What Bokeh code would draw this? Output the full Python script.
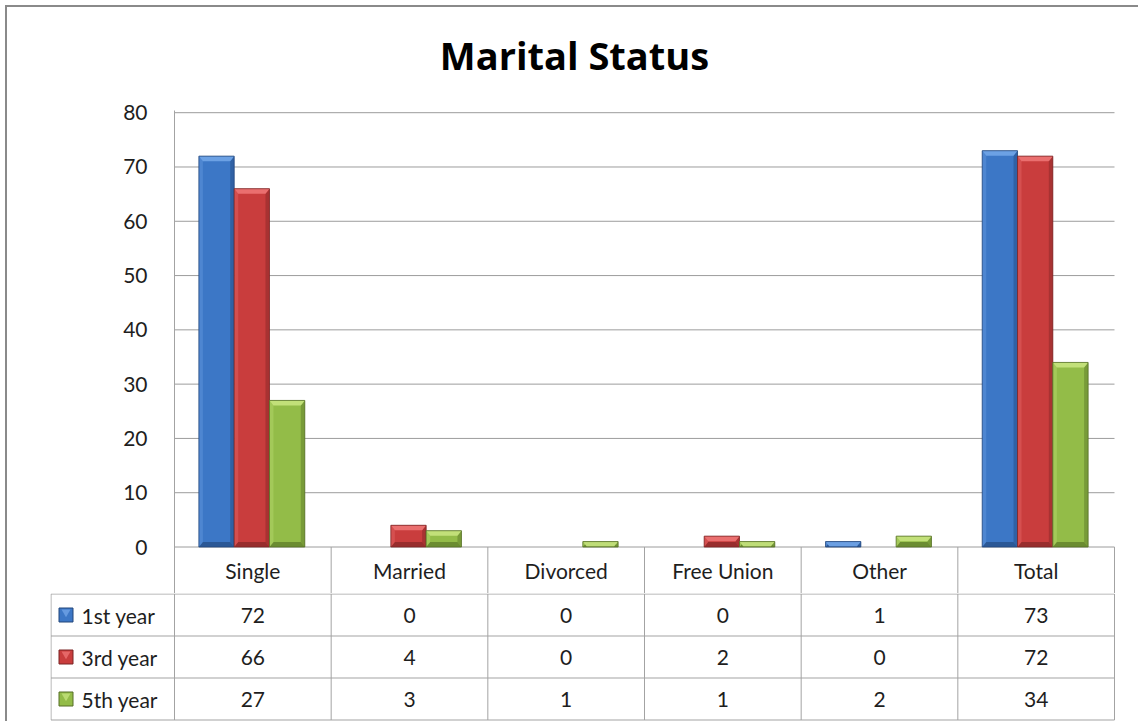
from bokeh.plotting import figure
from bokeh.layouts import column
from bokeh.models import Range1d, LinearAxis, FixedTicker
from bokeh.core.properties import value
from bokeh.embed import file_html
from bokeh.resources import INLINE

# ---------------- data ----------------
title_text = "Marital Status"
categories = ["Single", "Married", "Divorced", "Free Union", "Other", "Total"]
series_names = ["1st year", "3rd year", "5th year"]
first_year = [72, 0, 0, 0, 1, 73]
third_year = [66, 4, 0, 2, 0, 72]
fifth_year = [27, 3, 1, 1, 2, 34]
y_ticks = [0, 10, 20, 30, 40, 50, 60, 70, 80]

series_values = [first_year, third_year, fifth_year]

# ---------------- styles ----------------
FONT = "Lato"
TITLE_FONT = "Open Sans"
base_cols = ["#3c77c6", "#c93d3d", "#93bc48"]
light_cols = ["#6fa3e6", "#ec7272", "#c4e27c"]
dark_cols = ["#27508a", "#8c2929", "#62802c"]
edge_cols = ["#23467a", "#7a2424", "#566f27"]
grid_col = "#9c9c9c"
table_col = "#a3a3a3"
text_col = "#1e1e1e"

OX, OY = 7, 7                  # page position of the layout content
W = 1131
ncat = len(categories)
vmax = 80

# page-pixel geometry of the reference
frame_left, frame_right = 174, 1114
y80_px, y0_px = 112.2, 546.5
header_bot_px = 593
table_bot_px = 720
leg_left_px = 50
title_center_px = 574
title_mid_px = 54

TITLE_H = 88
MB_TOP = 15
MB_LEFT = frame_left - OX
EXTRA_R = 2
MB_RIGHT = W - (frame_right + EXTRA_R - OX)
ppu = (y0_px - y80_px) / vmax          # pixels per data unit (y)
frame_top_px = OY + TITLE_H + MB_TOP
frame_h = header_bot_px - frame_top_px
y1 = vmax + (y80_px - frame_top_px) / ppu
y0 = -(header_bot_px - y0_px) / ppu
TOP_H = MB_TOP + frame_h
xpp = ncat / (frame_right - frame_left)   # data units per pixel (x)
upp = 1.0 / ppu


def bare(fig):
    fig.outline_line_color = None
    fig.grid.visible = False
    fig.background_fill_color = "white"
    fig.border_fill_color = "white"


# ---------------- title strip ----------------
tf = figure(width=W, height=TITLE_H, output_backend="svg", toolbar_location=None,
            x_range=Range1d(0, W), y_range=Range1d(0, TITLE_H),
            min_border_left=0, min_border_right=0, min_border_top=0, min_border_bottom=0,
            x_axis_location=None, y_axis_location=None, frame_align=False)
bare(tf)
tf.text(x=[title_center_px - OX], y=[TITLE_H - (title_mid_px - OY)], text=[title_text],
        text_align="center", text_baseline="middle", text_font=value(TITLE_FONT),
        text_font_style="bold", text_font_size="38px", text_color="black")

# ---------------- chart ----------------
p = figure(width=W, height=TOP_H, output_backend="svg", toolbar_location=None,
           x_range=Range1d(0, ncat + EXTRA_R * xpp), y_range=Range1d(y0, y1),
           min_border_left=MB_LEFT, min_border_right=MB_RIGHT,
           min_border_top=MB_TOP, min_border_bottom=0,
           x_axis_location=None, y_axis_location=None, frame_align=False)
bare(p)

yaxis = LinearAxis(ticker=FixedTicker(ticks=y_ticks))
yaxis.major_tick_line_color = None
yaxis.minor_tick_line_color = None
yaxis.axis_line_color = table_col
yaxis.major_label_standoff = 21
yaxis.major_label_text_font = FONT
yaxis.major_label_text_font_size = "21px"
yaxis.major_label_text_color = text_col
p.add_layout(yaxis, "left")

# horizontal gridlines from the tick values
p.segment(x0=[0] * len(y_ticks), x1=[ncat] * len(y_ticks), y0=y_ticks, y1=y_ticks,
          line_color=grid_col, line_width=1)

bar_w = 35.3 * xpp
cap = 5 * upp
side = 4 * xpp
offsets = [(k - 1) * bar_w for k in range(3)]

for k, vals in enumerate(series_values):
    xs, tops = [], []
    for i, v in enumerate(vals):
        if v > 0:
            xs.append(i + 0.5 + offsets[k] - 1.0 * xpp)
            tops.append(v)
    if not xs:
        continue
    left = [x - bar_w / 2 for x in xs]
    right = [x + bar_w / 2 for x in xs]
    p.vbar(x=xs, top=tops, bottom=0, width=bar_w, fill_color=base_cols[k],
           line_color=None)
    p.patches(xs=[[r - side, r, r, r - side] for r in right],
              ys=[[cap, 0, t, t - cap] for t in tops],
              fill_color=dark_cols[k], fill_alpha=0.55, line_color=None)
    p.patches(xs=[[l, r, r - side, l + side] for l, r in zip(left, right)],
              ys=[[0, 0, cap, cap] for _ in xs],
              fill_color=dark_cols[k], fill_alpha=0.8, line_color=None)
    p.patches(xs=[[l, l + side, l + side, l] for l in left],
              ys=[[0, cap, t - cap, t] for t in tops],
              fill_color=light_cols[k], fill_alpha=0.35, line_color=None)
    p.patches(xs=[[l, r, r - side, l + side] for l, r in zip(left, right)],
              ys=[[t, t, t - cap, t - cap] for t in tops],
              fill_color=light_cols[k], fill_alpha=0.95, line_color=None)
    p.vbar(x=xs, top=tops, bottom=0, width=bar_w, fill_color=None,
           line_color=edge_cols[k], line_width=1, line_alpha=0.8)

# header row of the data table (inside the chart frame, below 0)
p.segment(x0=list(range(1, ncat + 1)), x1=list(range(1, ncat + 1)),
          y0=[y0] * ncat, y1=[0] * ncat, line_color=table_col)
p.text(x=[i + 0.5 for i in range(ncat)], y=[y0 / 2] * ncat,
       text=categories, text_align="center", text_baseline="middle",
       text_font=value(FONT), text_font_size="21px", text_color=text_col)

# ---------------- data rows of the table ----------------
TAB_H = table_bot_px + 1 - header_bot_px
nrows = len(series_names)
row_h = (TAB_H - 2) / nrows
tx0 = -(frame_left - leg_left_px) * xpp
t = figure(width=W, height=TAB_H, output_backend="svg", toolbar_location=None,
           x_range=Range1d(tx0, ncat + EXTRA_R * xpp), y_range=Range1d(0, TAB_H),
           min_border_left=leg_left_px - OX, min_border_right=MB_RIGHT,
           min_border_top=0, min_border_bottom=0,
           x_axis_location=None, y_axis_location=None, frame_align=False)
bare(t)

top_y = TAB_H - 0.5
row_lines = [top_y - r * row_h for r in range(nrows + 1)]
t.segment(x0=[tx0 + 0.5 * xpp] * len(row_lines), x1=[ncat] * len(row_lines),
          y0=row_lines, y1=row_lines, line_color=table_col)
vx = [tx0 + 0.5 * xpp] + list(range(ncat + 1))
t.segment(x0=vx, x1=vx, y0=[row_lines[-1]] * len(vx), y1=[top_y] * len(vx),
          line_color=table_col)

for r, (name, vals) in enumerate(zip(series_names, series_values)):
    yc = top_y - (r + 0.5) * row_h
    t.text(x=[i + 0.5 for i in range(ncat)], y=[yc] * ncat,
           text=[str(v) for v in vals], text_align="center", text_baseline="middle",
           text_font=value(FONT), text_font_size="21px", text_color=text_col)
    t.text(x=[tx0 + 31 * xpp], y=[yc], text=[name], text_align="left",
           text_baseline="middle", text_font=value(FONT), text_font_size="21px",
           text_color=text_col)
    kx = tx0 + 15.5 * xpp
    t.scatter(x=[kx], y=[yc], marker="square", size=14, fill_color=base_cols[r],
              line_color=edge_cols[r], line_width=1)
    t.scatter(x=[kx], y=[yc + 3], marker="inverted_triangle", size=9,
              fill_color=light_cols[r], line_color=None, fill_alpha=0.8)

layout = column(tf, p, t, spacing=0, margin=(5, 0, 0, 5),
                styles={"border-left": "2px solid #8a8a8a", "border-top": "2px solid #8a8a8a"})

open("out.html", "w").write(file_html(layout, INLINE))
